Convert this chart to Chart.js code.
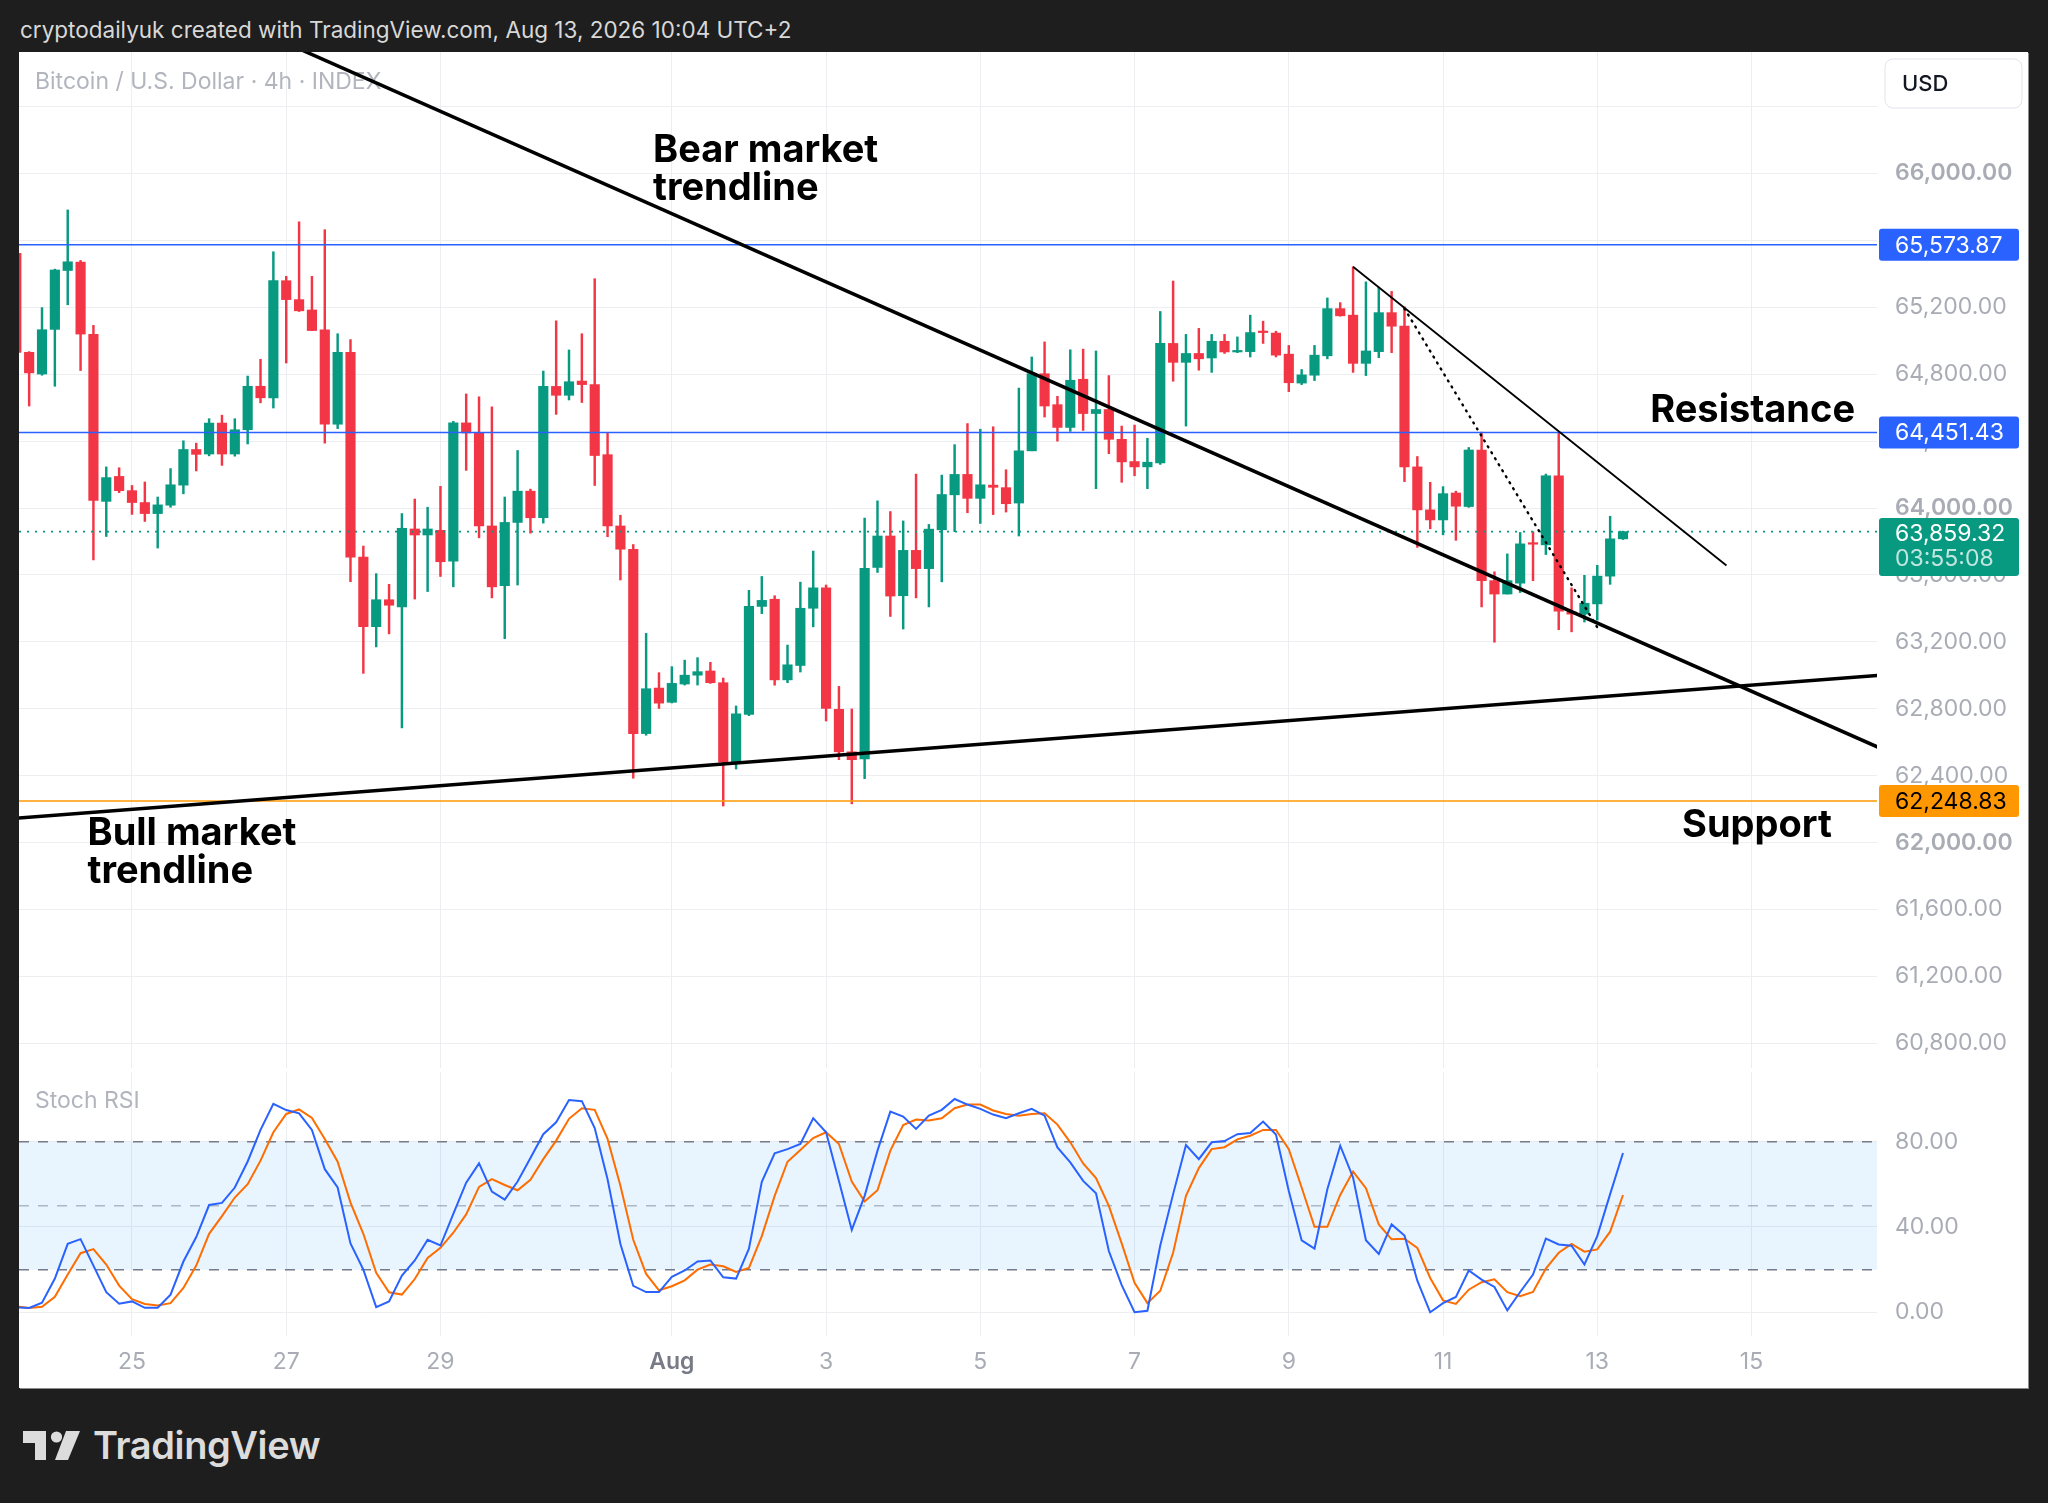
<!DOCTYPE html>
<html>
<head>
<meta charset="utf-8">
<title>Bitcoin / U.S. Dollar 4h</title>
<script src="https://cdn.jsdelivr.net/npm/chart.js@4.4.1/dist/chart.umd.min.js"></script>
<style>
  html, body { margin: 0; padding: 0; background: #1e1e1e; }
  body { width: 2048px; height: 1503px; position: relative; overflow: hidden; font-family: Inter, "Noto Sans", sans-serif; }
  #header { position: absolute; left: 20px; top: 16px; color: #d8d8d8; font-size: 22.5px; line-height: 28px; white-space: nowrap; }
  #panel { position: absolute; left: 19px; top: 52px; width: 2009px; height: 1336px; background: #fff; box-shadow: 1px 1px 0 #8c8c8c; }
  #mainCanvas { position: absolute; left: 19px; top: 52px; }
  #stochCanvas { position: absolute; left: 19px; top: 1072px; }
  #logo { position: absolute; left: 23px; top: 1424px; display: flex; align-items: center; color: #dcdcdc; }
  #logo span { margin-left: 13px; font-size: 38px; font-weight: 600; letter-spacing: -0.4px; line-height: 42px; }
</style>
</head>
<body>
<div id="header">cryptodailyuk created with TradingView.com, Aug 13, 2026 10:04 UTC+2</div>
<div id="panel"></div>
<canvas id="mainCanvas" width="2009" height="1016"></canvas>
<canvas id="stochCanvas" width="2009" height="316"></canvas>
<div id="logo">
  <svg width="57" height="29" viewBox="0 0 57 29">
    <path d="M0 0 H23 V29 H12 V12 H0 Z" fill="#dcdcdc"/>
    <circle cx="33.5" cy="6" r="5.6" fill="#dcdcdc"/>
    <path d="M43 0 H57 L45 29 H32 Z" fill="#dcdcdc"/>
  </svg>
  <span>TradingView</span>
</div>
<script>
// bougies 4h, première bougie le 23 juillet à 12:00 (jour 23.5)
const startDay = 23.5;
const stepDay = 1 / 6;

const opens = [65522,64931,64801,65068,65420,65470,65038,64040,64189,64104,
  64033,63967,64017,64137,64350,64323,64508,64323,64468,64728,
  64659,65359,65246,65184,65066,64501,64931,63707,63291,63452,
  63409,63875,63839,63867,63683,64509,64449,63893,63536,63914,
  64101,63942,64727,64674,64759,64738,64319,63893,63754,62652,
  62924,62839,62948,63001,63026,62956,62481,62766,63412,63455,
  62973,63059,63401,63523,62797,62543,62500,63645,63833,63476,
  63747,63638,63870,64079,64201,64058,64137,64122,64030,64342,
  64803,64618,64482,64770,64565,64589,64411,64278,64246,64270,
  64984,64871,64924,64897,64997,64933,64935,65057,65046,64920,
  64747,64794,64910,65192,65153,64865,64935,65168,65087,64246,
  63989,63929,64090,64009,64347,63566,63486,63551,63790,63780,
  64193,63379,63366,63427,63593,63816];
const highs = [65560,64935,65198,65428,65782,65480,65092,64246,64241,64135,
  64156,64066,64236,64402,64388,64534,64555,64534,64789,64889,
  65532,65385,65711,65385,65664,65042,65007,63773,63608,63544,
  63967,64054,64005,64130,64518,64682,64665,64605,64066,64344,
  64113,64819,65119,64945,65042,65371,64449,63957,63782,63251,
  63016,63052,63091,63106,63078,62984,62817,63508,63591,63476,
  63181,63557,63743,63540,62934,62799,63940,64043,63979,63923,
  64203,63902,64197,64379,64505,64471,64486,64229,64717,64903,
  64993,64668,64946,64950,64939,64792,64490,64496,64417,65175,
  65357,65038,65074,65038,65038,65023,65153,65117,65057,64972,
  64828,64972,65256,65228,65442,65352,65320,65295,65203,64308,
  64154,64128,64101,64362,64454,63619,63726,63854,63859,64203,
  64449,63523,63598,63658,63951,63862];
const lows = [64900,64610,64794,64728,65215,64822,63690,63830,64092,63962,
  63920,63761,64005,64085,64222,64312,64255,64310,64383,64629,
  64598,64867,65175,65061,64388,64475,63560,63012,63170,63248,
  62686,63456,63501,63591,63529,64225,63822,63463,63219,63540,
  63850,63910,64560,64646,64631,64135,63829,63570,62385,62642,
  62802,62835,62942,62942,62952,62219,62440,62759,63369,62941,
  62956,63020,63290,62727,62496,62232,62382,63615,63352,63277,
  63463,63409,63559,63859,63972,63908,63961,63976,63833,64342,
  64544,64400,64458,64464,64116,64325,64154,64193,64116,64261,
  64758,64490,64824,64811,64924,64929,64903,64984,64903,64696,
  64738,64762,64892,65147,64811,64792,64899,64929,64158,63765,
  63876,63840,63807,64004,63409,63198,63486,63495,63566,63722,
  63273,63260,63319,63330,63544,63812];
const closes = [64931,64808,65066,65423,65472,65040,64045,64182,64104,64033,
  63967,64019,64139,64350,64321,64508,64323,64468,64728,64659,
  65359,65246,65179,65061,64501,64931,63707,63291,63452,63419,
  63879,63839,63875,63679,64509,64449,63893,63529,63914,64101,
  63942,64727,64674,64755,64738,64314,63893,63754,62652,62920,
  62834,62952,63001,63022,62956,62481,62770,63412,63448,62973,
  63063,63401,63523,62802,62543,62496,63640,63833,63474,63747,
  63638,63874,64081,64201,64058,64139,64124,64026,64342,64803,
  64610,64482,64764,64565,64589,64411,64276,64246,64274,64984,
  64871,64924,64892,64997,64933,64939,65049,65049,64914,64749,
  64796,64914,65192,65149,64865,64939,65168,65087,64246,63989,
  63929,64086,64011,64347,63566,63486,63566,63786,63784,64193,
  63384,63366,63431,63593,63816,63859.32];

// Stoch RSI : %K (bleu) et %D (orange)
const stochK = [2.3,2.0,4.5,15.8,32.1,34.3,21.9,9.4,4.0,5.1,
  2.1,2.1,8.3,23.8,35.3,50.3,51.3,58.5,70.7,85.5,
  97.7,94.8,93.3,85.5,67.1,58.5,32.3,20.0,2.4,5.1,
  17.2,24.3,34.0,31.3,46.2,60.8,69.8,56.6,52.8,61.3,
  72.3,83.5,89.1,99.5,99.0,86.4,62.4,32.0,12.4,9.5,
  9.5,16.6,19.6,23.8,24.3,16.4,15.8,29.8,61.2,74.5,
  76.5,78.9,91.0,84.4,61.6,38.6,54.6,75.8,94.1,91.8,
  86.0,92.2,94.9,100,97.4,95.4,92.7,91.0,93.3,95.4,
  92.2,77.3,70.3,61.6,55.8,28.7,12.7,0,0.7,31.3,
  55.4,78.4,71.8,79.7,80.3,83.5,84.1,89.4,83.3,56.9,
  33.7,29.9,57.7,78.1,63.2,33.8,27.4,41.2,36.0,14.8,
  0,4.3,7.2,19.6,15.3,11.9,0.9,9.5,17.7,34.6,
  31.8,31.2,22.4,35.7,55.4,74.7];
const stochD = [2.8,2.0,2.6,7.3,17.7,27.7,29.6,22.4,12.5,6.2,
  3.9,3.2,4.3,11.4,21.9,36.8,45.1,53.8,60.1,71.1,
  84.4,93.0,95.1,91.1,81.3,70.6,51.4,36.8,18.5,9.4,
  8.3,15.6,25.5,30.2,37.3,45.9,58.8,62.4,59.7,57.2,
  62.1,71.8,80.5,90.7,95.7,94.9,81.3,59.3,34.0,18.0,
  10.3,12.2,15.0,20.0,22.4,21.6,18.9,20.8,35.7,54.6,
  70.6,76.1,81.7,84.4,78.9,61.3,51.9,57.2,75.8,87.8,
  90.4,89.9,91.0,95.7,97.4,97.4,94.6,93.0,92.2,93.0,
  93.3,88.0,79.7,69.8,62.9,49.9,32.3,13.8,4.3,10.1,
  27.9,54.6,67.6,76.5,77.4,81.1,82.8,85.5,85.5,76.5,
  58.5,40.1,40.1,55.0,66.0,58.2,41.2,34.2,34.5,30.2,
  16.1,5.6,3.9,10.6,14.1,15.5,9.4,7.5,9.5,20.5,
  27.9,32.1,28.4,29.5,37.8,55.0];

// axes
const priceTicks = [60800, 61200, 61600, 62000, 62400, 62800, 63200, 63600, 64000, 64400, 64800, 65200, 65600, 66000, 66400];
const dayTicks = [25, 27, 29, 32, 34, 36, 38, 40, 42, 44, 46];
const dayLabels = ['25', '27', '29', 'Aug', '3', '5', '7', '9', '11', '13', '15'];
const stochTicks = [0, 40, 80];

// niveaux horizontaux
const resistanceLevels = [65573.87, 64451.43];
const supportLevel = 62248.83;
const lastPrice = 63859.32;
const countdown = '03:55:08';
const stochBand = [20, 50, 80];

// lignes de tendance [jour, prix]
const bearLine = [[26, 66983], [48, 62497]];
const bullLine = [[23, 62128], [48, 63013]];
const peakLine = [[40.833, 65442], [45.675, 63657]];
const dottedLine = [[41.5, 65192], [44.0, 63287]];

// annotations texte
const noteTexts = [['Bear market', 'trendline'], ['Resistance'], ['Support'], ['Bull market', 'trendline']];
const noteDays = [31.756, 47.342, 45.099, 24.423];
const notePrices = [66068, 64514, 62033, 61986];
const noteAligns = ['left', 'right', 'left', 'left'];

window.onload = () => {
    const xMin = 23.535, xMax = 47.627;
    const priceMin = 60653, priceMax = 66726;
    const family = 'Inter, "Noto Sans", sans-serif';
    const gridColor = '#eceef1';
    const axisColor = '#a9acb5';
    const green = '#089981', red = '#f23645';

    function dayOf(i) { return startDay + i * stepDay; }
    function fmt(v) { return v.toLocaleString('en-US', {minimumFractionDigits: 2, maximumFractionDigits: 2}); }
    function hLine(level) { return [{x: xMin, y: level}, {x: xMax, y: level}]; }
    function segment(pts) { return pts.map(p => ({x: p[0], y: p[1]})); }
    function box(ctx, x, y, w, h, color) {
        ctx.fillStyle = color;
        ctx.beginPath();
        ctx.roundRect(x, y, w, h, 3);
        ctx.fill();
    }
    // pas de marge automatique autour des axes : la zone de tracé occupe tout le canvas
    function noPadding(s) {
        s.paddingTop = 0; s.paddingBottom = 0; s.paddingLeft = 0; s.paddingRight = 0;
    }

    const candleColors = closes.map((c, i) => c >= opens[i] ? green : red);
    const bodies = opens.map((o, i) => ({x: dayOf(i), y: [o, closes[i]]}));
    const wicks = lows.map((l, i) => ({x: dayOf(i), y: [l, highs[i]]}));

    function lineSet(data, color, width, extra) {
        return Object.assign({type: 'line', data: data, borderColor: color, borderWidth: width,
            pointRadius: 0, fill: false, tension: 0, order: 0}, extra || {});
    }

    // textes et étiquettes de prix du panneau principal
    const mainDecor = {
        id: 'mainDecor',
        beforeDatasetsDraw(chart) {
            const ctx = chart.ctx;
            ctx.save();
            ctx.font = '23px ' + family;
            ctx.fillStyle = '#b2b5be';
            ctx.textBaseline = 'middle';
            ctx.fillText('Bitcoin / U.S. Dollar \u00b7 4h \u00b7 INDEX', chart.chartArea.left + 16, 30);
            ctx.restore();
        },
        afterDatasetsDraw(chart) {
            const ctx = chart.ctx;
            const sx = chart.scales.x, sy = chart.scales.y;
            ctx.save();
            ctx.font = '700 38px ' + family;
            ctx.fillStyle = '#000';
            ctx.textBaseline = 'alphabetic';
            noteTexts.forEach((lines, n) => {
                ctx.textAlign = noteAligns[n];
                const x = sx.getPixelForValue(noteDays[n]);
                const y = sy.getPixelForValue(notePrices[n]);
                lines.forEach((t, k) => ctx.fillText(t, x, y + k * 38));
            });
            ctx.restore();
        },
        afterDraw(chart) {
            const ctx = chart.ctx;
            const sy = chart.scales.y;
            const bx = sy.left + 2, bw = 140;
            ctx.save();
            ctx.font = '23px ' + family;
            ctx.textBaseline = 'middle';
            ctx.textAlign = 'left';
            resistanceLevels.forEach(v => {
                const y = sy.getPixelForValue(v);
                box(ctx, bx, y - 16, bw, 32, '#2962ff');
                ctx.fillStyle = '#fff';
                ctx.fillText(fmt(v), bx + 16, y + 1);
            });
            let y = sy.getPixelForValue(supportLevel);
            box(ctx, bx, y - 16, bw, 32, '#ff9800');
            ctx.fillStyle = '#000';
            ctx.fillText(fmt(supportLevel), bx + 16, y + 1);

            y = sy.getPixelForValue(lastPrice);
            box(ctx, bx, y - 13.5, bw, 58, green);
            ctx.fillStyle = '#fff';
            ctx.fillText(fmt(lastPrice), bx + 16, y + 2);
            ctx.fillStyle = 'rgba(255,255,255,0.75)';
            ctx.fillText(countdown, bx + 16, y + 27);

            // bouton USD
            ctx.fillStyle = '#fff';
            ctx.strokeStyle = '#e0e3eb';
            ctx.lineWidth = 1;
            ctx.beginPath();
            ctx.roundRect(sy.left + 8, 7, 137, 49, 8);
            ctx.fill();
            ctx.stroke();
            ctx.fillStyle = '#131722';
            ctx.font = '500 22px ' + family;
            ctx.fillText('USD', sy.left + 25, 32);
            ctx.restore();
        }
    };

    new Chart(document.getElementById('mainCanvas'), {
        type: 'bar',
        data: {
            datasets: [
                lineSet(segment(bearLine), '#000', 3.5),
                lineSet(segment(bullLine), '#000', 3.5),
                lineSet(segment(peakLine), '#000', 1.8),
                lineSet(segment(dottedLine), '#000', 2.4, {borderDash: [1, 6], borderCapStyle: 'round'}),
                lineSet(hLine(resistanceLevels[0]), '#2962ff', 1.6, {order: 1}),
                lineSet(hLine(resistanceLevels[1]), '#2962ff', 1.6, {order: 1}),
                lineSet(hLine(supportLevel), '#ff9800', 1.6, {order: 1}),
                lineSet(hLine(lastPrice), green, 1.6, {order: 1, borderDash: [2, 6]}),
                {data: bodies, backgroundColor: candleColors, barThickness: 9.5, grouped: false, minBarLength: 1.5, order: 2},
                {data: wicks, backgroundColor: candleColors, barThickness: 1.8, grouped: false, order: 3}
            ]
        },
        options: {
            responsive: false,
            animation: false,
            layout: {padding: 0},
            plugins: {legend: {display: false}, tooltip: {enabled: false}},
            scales: {
                x: {
                    type: 'linear', min: xMin, max: xMax, offset: false,
                    afterBuildTicks: s => { s.ticks = dayTicks.map(v => ({value: v})); },
                    afterFit: s => { s.height = 0; noPadding(s); },
                    ticks: {display: false},
                    grid: {color: gridColor, drawTicks: false, offset: false},
                    border: {display: false}
                },
                y: {
                    position: 'right', min: priceMin, max: priceMax,
                    afterBuildTicks: s => { s.ticks = priceTicks.map(v => ({value: v})); },
                    afterFit: s => { s.width = 151; noPadding(s); },
                    grid: {color: gridColor, drawTicks: false},
                    border: {display: false},
                    ticks: {
                        padding: 18,
                        color: axisColor,
                        autoSkip: false,
                        font: ctx => ({family: family, size: 23, weight: ctx.tick && ctx.tick.value % 2000 === 0 ? '600' : '400'}),
                        callback: v => v > 66000 ? '' : fmt(v)
                    }
                }
            }
        },
        plugins: [mainDecor]
    });

    // panneau Stoch RSI
    const stochDecor = {
        id: 'stochDecor',
        beforeDatasetsDraw(chart) {
            const ctx = chart.ctx;
            ctx.save();
            ctx.font = '23px ' + family;
            ctx.fillStyle = '#b2b5be';
            ctx.textBaseline = 'middle';
            ctx.fillText('Stoch RSI', chart.chartArea.left + 16, 29);
            ctx.restore();
        }
    };

    const dash = [10, 9];
    new Chart(document.getElementById('stochCanvas'), {
        type: 'line',
        data: {
            datasets: [
                {data: stochK.map((v, i) => ({x: dayOf(i), y: v})), borderColor: '#2962ff', borderWidth: 2, pointRadius: 0, tension: 0, order: 0},
                {data: stochD.map((v, i) => ({x: dayOf(i), y: v})), borderColor: '#ff6d00', borderWidth: 2, pointRadius: 0, tension: 0, order: 1},
                {data: hLine(stochBand[2]), borderColor: '#787b86', borderWidth: 1.5, borderDash: dash, pointRadius: 0,
                    fill: {value: stochBand[0]}, backgroundColor: 'rgba(33,150,243,0.1)', order: 2},
                {data: hLine(stochBand[0]), borderColor: '#787b86', borderWidth: 1.5, borderDash: dash, pointRadius: 0, order: 2},
                {data: hLine(stochBand[1]), borderColor: 'rgba(120,123,134,0.5)', borderWidth: 1.5, borderDash: dash, pointRadius: 0, order: 2}
            ]
        },
        options: {
            responsive: false,
            animation: false,
            layout: {padding: 0},
            plugins: {legend: {display: false}, tooltip: {enabled: false}},
            scales: {
                x: {
                    type: 'linear', min: xMin, max: xMax, offset: false,
                    afterBuildTicks: s => { s.ticks = dayTicks.map(v => ({value: v})); },
                    afterFit: s => { s.height = 52.5; noPadding(s); },
                    grid: {color: gridColor, drawTicks: false, offset: false},
                    border: {display: false},
                    ticks: {
                        padding: 13,
                        maxRotation: 0,
                        autoSkip: false,
                        color: ctx => ctx.tick && ctx.tick.value === 32 ? '#787b86' : axisColor,
                        font: ctx => ({family: family, size: 23, weight: ctx.tick && ctx.tick.value === 32 ? '600' : '400'}),
                        callback: v => dayLabels[dayTicks.indexOf(v)]
                    }
                },
                y: {
                    position: 'right', min: -10.88, max: 112.66,
                    afterBuildTicks: s => { s.ticks = stochTicks.map(v => ({value: v})); },
                    afterFit: s => { s.width = 151; noPadding(s); },
                    grid: {color: gridColor, drawTicks: false},
                    border: {display: false},
                    ticks: {padding: 18, color: axisColor, font: {family: family, size: 23}, callback: v => fmt(v)}
                }
            }
        },
        plugins: [stochDecor]
    });
};
</script>
</body>
</html>
